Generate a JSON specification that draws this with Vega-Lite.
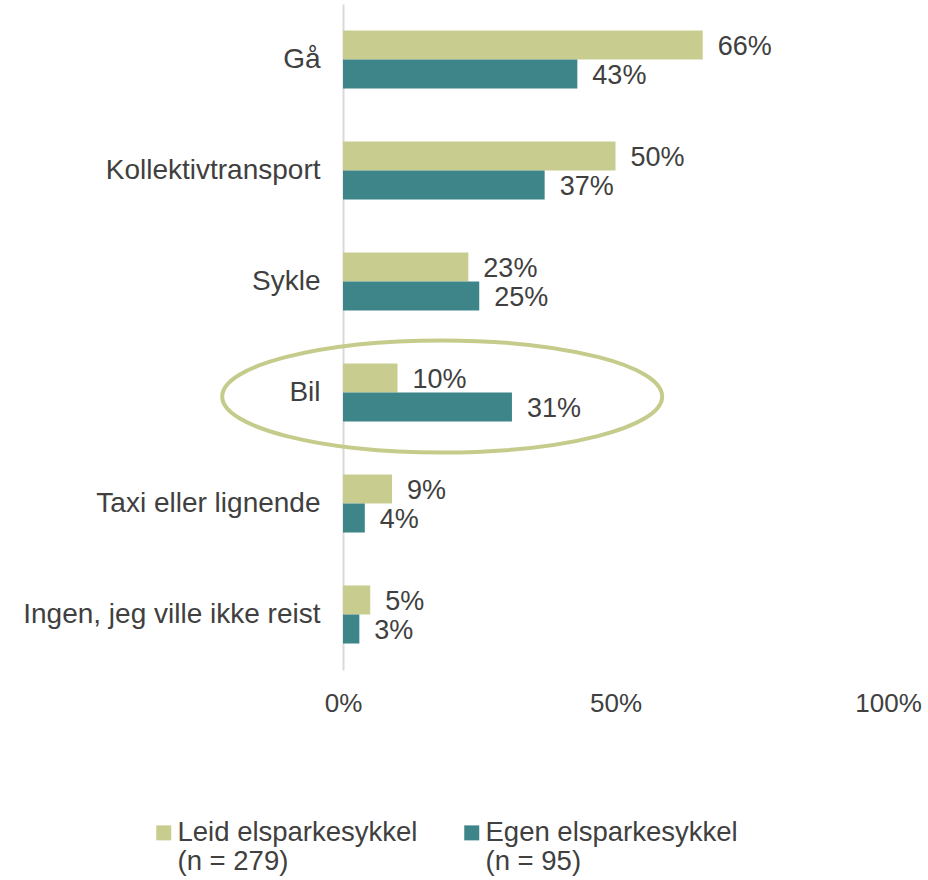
{
  "$schema": "https://vega.github.io/schema/vega-lite/v6.json",
  "autosize": {"type": "none"},
  "width": 545,
  "height": 666,
  "padding": {"left": 343, "top": 4, "right": 40, "bottom": 210},
  "background": "#ffffff",
  "config": {
    "font": "Liberation Sans",
    "view": {"stroke": null}
  },
  "datasets": {
    "bars": [
      {"category": "Gå", "series": "Leid elsparkesykkel", "value": 0.66},
      {"category": "Gå", "series": "Egen elsparkesykkel", "value": 0.43},
      {"category": "Kollektivtransport", "series": "Leid elsparkesykkel", "value": 0.50},
      {"category": "Kollektivtransport", "series": "Egen elsparkesykkel", "value": 0.37},
      {"category": "Sykle", "series": "Leid elsparkesykkel", "value": 0.23},
      {"category": "Sykle", "series": "Egen elsparkesykkel", "value": 0.25},
      {"category": "Bil", "series": "Leid elsparkesykkel", "value": 0.10},
      {"category": "Bil", "series": "Egen elsparkesykkel", "value": 0.31},
      {"category": "Taxi eller lignende", "series": "Leid elsparkesykkel", "value": 0.09},
      {"category": "Taxi eller lignende", "series": "Egen elsparkesykkel", "value": 0.04},
      {"category": "Ingen, jeg ville ikke reist", "series": "Leid elsparkesykkel", "value": 0.05},
      {"category": "Ingen, jeg ville ikke reist", "series": "Egen elsparkesykkel", "value": 0.03}
    ],
    "highlight": [
      {"category": "Bil", "x": 0.182}
    ]
  },
  "layer": [
    {
      "data": {"name": "bars"},
      "mark": {"type": "bar"},
      "encoding": {
        "y": {
          "field": "category",
          "type": "nominal",
          "sort": ["Gå", "Kollektivtransport", "Sykle", "Bil", "Taxi eller lignende", "Ingen, jeg ville ikke reist"],
          "scale": {"paddingInner": 0.477, "paddingOuter": 0.2385},
          "axis": {
            "title": null,
            "ticks": false,
            "domainColor": "#d9d9d9",
            "domainWidth": 2,
            "labelFontSize": 28,
            "labelColor": "#404040",
            "labelPadding": 23,
            "labelLimit": 400
          }
        },
        "yOffset": {
          "field": "series",
          "type": "nominal",
          "sort": ["Leid elsparkesykkel", "Egen elsparkesykkel"],
          "scale": {"paddingInner": 0, "paddingOuter": 0}
        },
        "x": {
          "field": "value",
          "type": "quantitative",
          "scale": {"domain": [0, 1], "nice": false},
          "axis": {
            "title": null,
            "values": [0, 0.5, 1],
            "format": ".0%",
            "grid": false,
            "domain": false,
            "ticks": false,
            "labelFontSize": 26,
            "labelColor": "#404040",
            "labelPadding": 20,
            "labelFlush": false
          }
        },
        "color": {
          "field": "series",
          "type": "nominal",
          "sort": ["Leid elsparkesykkel", "Egen elsparkesykkel"],
          "scale": {"domain": ["Leid elsparkesykkel", "Egen elsparkesykkel"], "range": ["#c8cd8f", "#3e8589"]},
          "legend": {
            "title": null,
            "orient": "none",
            "direction": "horizontal",
            "columns": 2,
            "legendX": -193,
            "legendY": 815,
            "padding": 0,
            "columnPadding": 40,
            "symbolType": "square",
            "symbolSize": 225,
            "symbolStrokeWidth": 0,
            "labelFontSize": 27.5,
            "labelColor": "#404040",
            "labelOffset": 0,
            "labelLimit": 400,
            "labelExpr": "datum.label == 'Leid elsparkesykkel' ? ['Leid elsparkesykkel', '(n = 279)'] : ['Egen elsparkesykkel', '(n = 95)']"
          }
        }
      }
    },
    {
      "data": {"name": "bars"},
      "mark": {"type": "text", "align": "left", "baseline": "middle", "dx": 15, "dy": 2, "fontSize": 27, "color": "#404040"},
      "encoding": {
        "y": {"field": "category", "type": "nominal", "sort": ["Gå", "Kollektivtransport", "Sykle", "Bil", "Taxi eller lignende", "Ingen, jeg ville ikke reist"]},
        "yOffset": {"field": "series", "type": "nominal", "sort": ["Leid elsparkesykkel", "Egen elsparkesykkel"]},
        "x": {"field": "value", "type": "quantitative"},
        "text": {"field": "value", "type": "quantitative", "format": ".0%"}
      }
    },
    {
      "data": {"name": "highlight"},
      "mark": {
        "type": "point",
        "filled": false,
        "clip": false,
        "shape": "M -1 0 C -1 -0.1406 -0.5523 -0.2545 0 -0.2545 C 0.5523 -0.2545 1 -0.1406 1 0 C 1 0.1406 0.5523 0.2545 0 0.2545 C -0.5523 0.2545 -1 0.1406 -1 0 Z",
        "size": 193600,
        "stroke": "#c5cb8a",
        "strokeWidth": 4,
        "opacity": 1,
        "yOffset": 4
      },
      "encoding": {
        "y": {"field": "category", "type": "nominal", "sort": ["Gå", "Kollektivtransport", "Sykle", "Bil", "Taxi eller lignende", "Ingen, jeg ville ikke reist"]},
        "x": {"field": "x", "type": "quantitative"}
      }
    }
  ]
}
